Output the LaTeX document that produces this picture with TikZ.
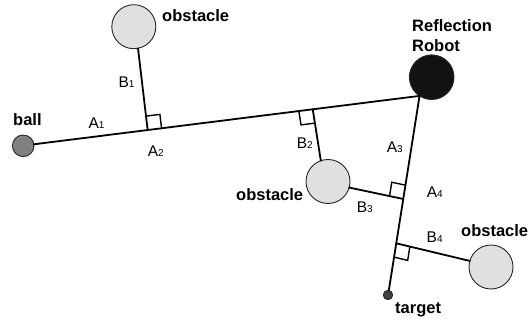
\documentclass[tikz,border=0pt]{standalone}
\usepackage{fontspec}
\setmainfont{Liberation Sans}
\usetikzlibrary{calc}
% segment name with a small index digit
\newcommand\segname[2]{#1{\fontsize{10}{10}\selectfont#2}}
\begin{document}
\begin{tikzpicture}[x=1pt,y=-1pt,
  disc/.style={circle,draw=black!85,line width=0.9pt,inner sep=0pt,outer sep=0pt},
  obstacle/.style={disc,fill=black!12,minimum size=44pt},
  trackline/.style={line width=1.8pt,line cap=round,line join=round},
  rightangle/.style={line width=1.4pt},
  caption/.style={font=\fontsize{16.5}{20}\selectfont\bfseries,inner sep=0pt},
  seglabel/.style={font=\fontsize{15.5}{18}\selectfont,inner sep=0pt,anchor=base west}]
\useasboundingbox (0,0) rectangle (528,321);

% bodies
\node[obstacle] (o1) at (133.8,26.7) {};
\node[obstacle] (o2) at (328,181.5) {};
\node[obstacle] (o3) at (491,267) {};
\node[disc,fill=black!93,minimum size=44.6pt] (robot) at (431.7,77.2) {};
\node[disc,fill=black!50,minimum size=21.6pt] (ball) at (23.2,145.8) {};
\node[disc,fill=black!75,minimum size=9.4pt] (target) at (388,295) {};

% ball -> robot -> target
\draw[trackline] (ball.8) -- (robot.237) -- (target.80);

% feet of the perpendiculars
\coordinate (f1) at ($(ball.8)!0.295!(robot.237)$);
\coordinate (f2) at ($(ball.8)!0.723!(robot.237)$);
\coordinate (f3) at ($(robot.237)!0.530!(target.80)$);
\coordinate (f4) at ($(robot.237)!0.758!(target.80)$);

% perpendiculars to the obstacles
\draw[trackline] (o1.281) -- (f1);
\draw[trackline] (o2.109) -- (f2);
\draw[trackline] (o2.344) -- (f3);
\draw[trackline] (o3.164) -- (f4);

% right-angle marks
\coordinate (s1u) at ($(f1)!14pt!(robot.237)$);
\coordinate (s1v) at ($(f1)!14pt!(o1.281)$);
\draw[rightangle] (s1u) -- ($(s1u)+(s1v)-(f1)$) -- (s1v);
\coordinate (s2u) at ($(f2)!14pt!(ball.8)$);
\coordinate (s2v) at ($(f2)!14pt!(o2.109)$);
\draw[rightangle] (s2u) -- ($(s2u)+(s2v)-(f2)$) -- (s2v);
\coordinate (s3u) at ($(f3)!14pt!(robot.237)$);
\coordinate (s3v) at ($(f3)!14pt!(o2.344)$);
\draw[rightangle] (s3u) -- ($(s3u)+(s3v)-(f3)$) -- (s3v);
\coordinate (s4u) at ($(f4)!14pt!(target.80)$);
\coordinate (s4v) at ($(f4)!14pt!(o3.164)$);
\draw[rightangle] (s4u) -- ($(s4u)+(s4v)-(f4)$) -- (s4v);

% captions
\node[caption,anchor=base west] (o1name) at (162,21.5) {obstacle};
\node[caption,anchor=base west] (o2name) at (236,200) {obstacle};
\node[caption,anchor=base west] (o3name) at (461,236) {obstacle};
\node[caption,anchor=base west] (ballname) at (13,125.7) {ball};
\node[caption,anchor=base west] (targetname) at (395,313) {target};
\node[caption,anchor=north west,align=left] (robotname) at (412,19.7) {Reflection\\Robot};

% segment labels
\node[seglabel] (la1) at (88.3,128.3) {\segname{A}{1}};
\node[seglabel] (la2) at (147.7,156.7) {\segname{A}{2}};
\node[seglabel] (lb1) at (118.3,87.3) {\segname{B}{1}};
\node[seglabel] (lb2) at (296.7,148.3) {\segname{B}{2}};
\node[seglabel] (la3) at (386.7,152.3) {\segname{A}{3}};
\node[seglabel] (lb3) at (356.7,212.5) {\segname{B}{3}};
\node[seglabel] (la4) at (426.7,197.7) {\segname{A}{4}};
\node[seglabel] (lb4) at (426.5,242.7) {\segname{B}{4}};
\end{tikzpicture}
\end{document}
